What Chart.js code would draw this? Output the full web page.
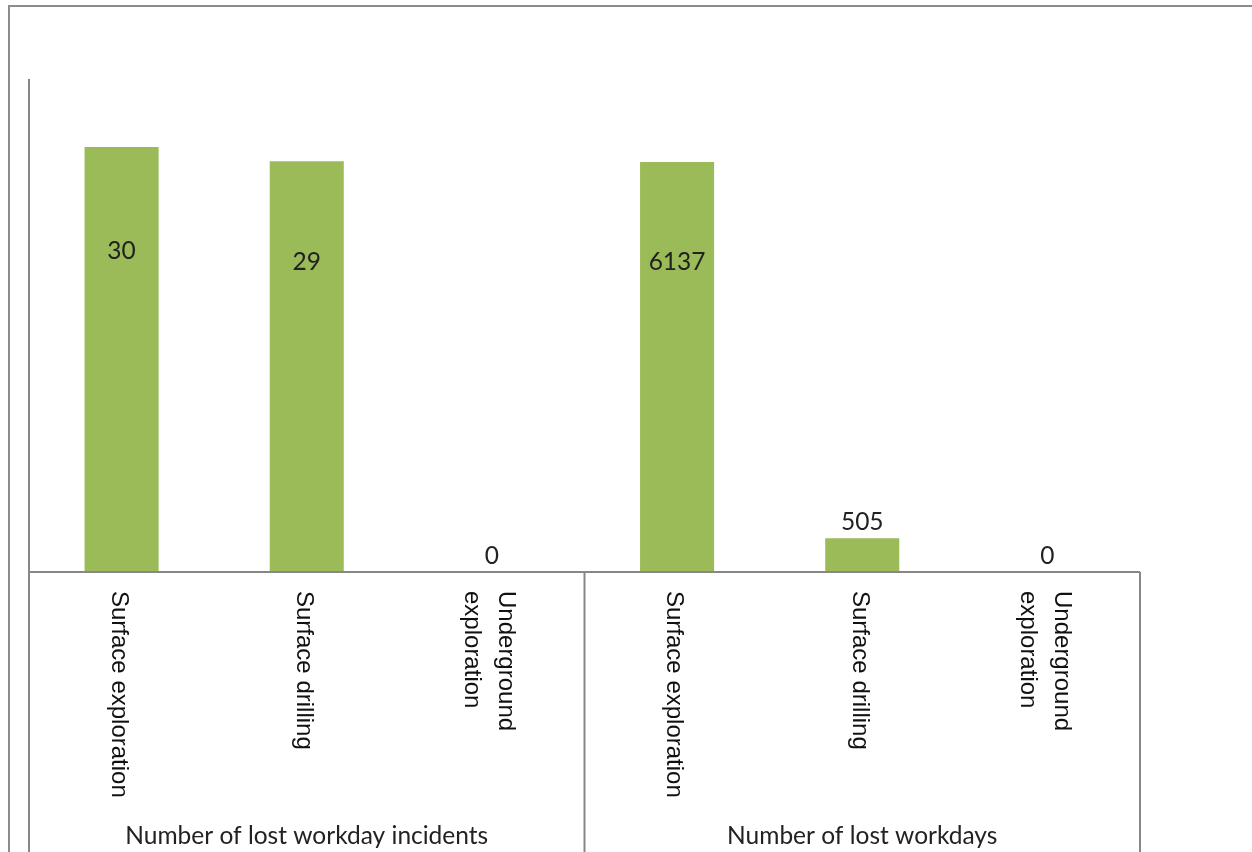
<!DOCTYPE html>
<html>
<head>
<meta charset="utf-8">
<title>Lost workday incidents</title>
<script src="https://cdn.jsdelivr.net/npm/chart.js@4.4.1/dist/chart.umd.min.js"></script>
<style>
  body { margin: 0; background: #fff; }
  canvas { display: block; }
</style>
</head>
<body>
<canvas id="myChart" width="1252" height="852"></canvas>
<script>
"use strict"

// data
const activities = [['Surface exploration'], ['Surface drilling'], ['Underground', 'exploration']];
const groups = ['Number of lost workday incidents', 'Number of lost workdays'];
const incidents = [30, 29, 0];
const workdays = [6137, 505, 0];

const labels = activities.concat(activities);
const axisColor = '#878787';
const barColor = '#9BBB59';

// draws the frame, axis lines, rotated category labels, group labels and value labels
const decorations = {
  id: 'decorations',
  afterDatasetsDraw(chart) {
    const ctx = chart.ctx;
    const area = chart.chartArea;
    const x = chart.scales.x;
    const bottom = chart.height;
    const split = (x.getPixelForValue(2) + x.getPixelForValue(3)) / 2;

    ctx.save();
    // outer frame
    ctx.strokeStyle = '#8c8c8c';
    ctx.lineWidth = 2;
    ctx.beginPath();
    ctx.moveTo(9, bottom);
    ctx.lineTo(9, 6);
    ctx.lineTo(chart.width, 6);
    ctx.stroke();

    // axis lines
    ctx.strokeStyle = axisColor;
    ctx.beginPath();
    ctx.moveTo(area.left, area.top);
    ctx.lineTo(area.left, bottom);
    ctx.moveTo(area.left, area.bottom);
    ctx.lineTo(area.right, area.bottom);
    ctx.moveTo(split, area.bottom);
    ctx.lineTo(split, bottom);
    ctx.moveTo(area.right, area.bottom);
    ctx.lineTo(area.right, bottom);
    ctx.stroke();

    // rotated category labels, reading top to bottom
    ctx.fillStyle = '#111';
    ctx.font = '24px "Liberation Sans", Arial, sans-serif';
    ctx.textAlign = 'left';
    ctx.textBaseline = 'middle';
    labels.forEach((lines, i) => {
      const cx = x.getPixelForValue(i) - 3;
      const lh = 34;
      lines.forEach((line, k) => {
        const off = (k - (lines.length - 1) / 2) * lh;
        ctx.save();
        ctx.translate(cx - off, area.bottom + 19);
        ctx.rotate(Math.PI / 2);
        ctx.fillText(line, 0, 0);
        ctx.restore();
      });
    });

    // group labels
    ctx.font = '24.5px Lato, "Open Sans", sans-serif';
    ctx.textAlign = 'center';
    ctx.fillStyle = '#222';
    ctx.fillText(groups[0], (area.left + split) / 2, 836);
    ctx.fillText(groups[1], (split + area.right) / 2, 836);

    // value labels
    chart.data.datasets.forEach((ds, di) => {
      chart.getDatasetMeta(di).data.forEach((bar, j) => {
        const v = ds.data[j];
        if (v === null || v === undefined) return;
        const h = bar.base - bar.y;
        const y = h > 60 ? bar.y + h * 0.245 : bar.y - 16;
        ctx.fillText(String(v), bar.x, y);
      });
    });
    ctx.restore();
  }
};

let myChart = document.getElementById('myChart').getContext('2d');

let lostChart = new Chart(myChart, {
  type: 'bar',
  data: {
    labels: labels.map(l => l.join(' ')),
    datasets: [{
      label: groups[0],
      data: incidents.concat([null, null, null]),
      backgroundColor: barColor,
      yAxisID: 'y'
    }, {
      label: groups[1],
      data: [null, null, null].concat(workdays),
      backgroundColor: barColor,
      yAxisID: 'y2'
    }]
  },
  options: {
    responsive: false,
    animation: false,
    layout: { padding: { left: 29, top: 79, right: 112, bottom: 280 } },
    datasets: { bar: { grouped: false, categoryPercentage: 1, barPercentage: 0.4 } },
    plugins: { legend: { display: false }, tooltip: { enabled: false } },
    scales: {
      x: { display: false },
      y: { display: false, min: 0, max: 34.8 },
      y2: { display: false, min: 0, max: 7380 }
    }
  },
  plugins: [decorations]
});
</script>
</body>
</html>
